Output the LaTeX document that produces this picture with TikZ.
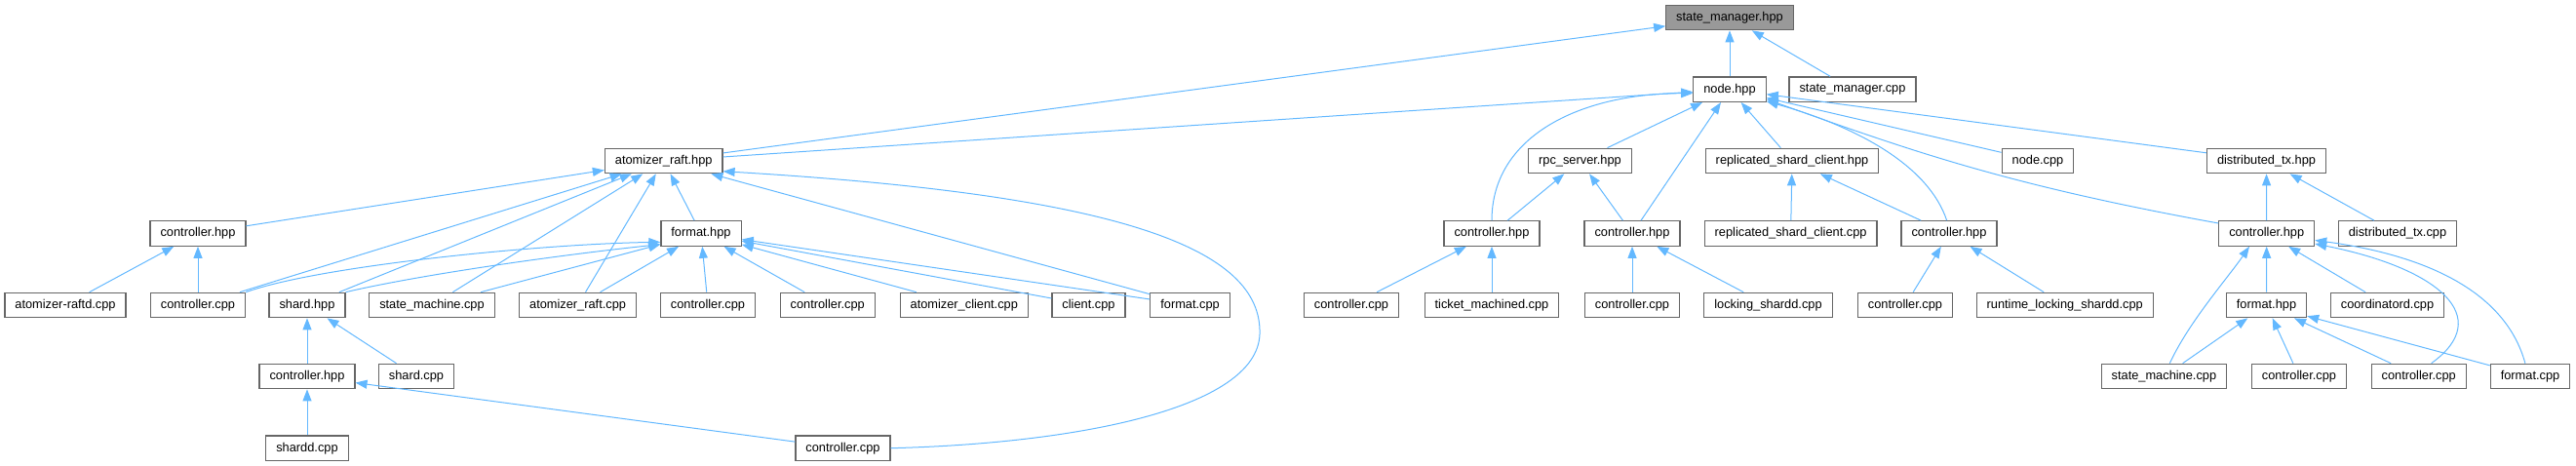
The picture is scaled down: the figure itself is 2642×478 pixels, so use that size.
\documentclass[tikz,border=0pt]{standalone}
\usepackage{fontspec}
\setmainfont{Liberation Sans}
\usetikzlibrary{arrows.meta}
\definecolor{edgeblue}{HTML}{63B8FF}
\definecolor{boxgrey}{HTML}{666666}
\definecolor{rootgrey}{HTML}{999999}

\begin{document}
\begin{tikzpicture}[
    x=1pt, y=-1pt,
    font=\fontsize{12.8}{15}\selectfont,
    file/.style={draw=boxgrey, line width=1.2pt, fill=white, minimum height=25.5pt, inner xsep=10.5pt, inner ysep=0pt},
    root/.style={file, fill=rootgrey},
    dep/.style={{Triangle[length=12pt, width=9pt]}-, draw=edgeblue, line width=1pt}
]
\useasboundingbox (0,0) rectangle (2642,478);

\node[root] (smhpp) at (1774,18) {state\_manager.hpp};

\node[file] (nodehpp) at (1774,91.7) {node.hpp};
\node[file] (smcpp) at (1900,91.7) {state\_manager.cpp};

\node[file] (arhpp) at (680.7,165) {atomizer\_raft.hpp};
\node[file] (rpchpp) at (1620.5,165) {rpc\_server.hpp};
\node[file] (rschpp) at (1838,165) {replicated\_shard\_client.hpp};
\node[file] (nodecpp) at (2090,165) {node.cpp};
\node[file] (dtxhpp) at (2324.5,165) {distributed\_tx.hpp};

\node[file] (ctrlarhpp) at (203,239.5) {controller.hpp};
\node[file] (fmtarhpp) at (719,239.5) {format.hpp};
\node[file] (ctrlrpca) at (1530,239.5) {controller.hpp};
\node[file] (ctrlrpcb) at (1674,239.5) {controller.hpp};
\node[file] (rsccpp) at (1836.6,239.5) {replicated\_shard\_client.cpp};
\node[file] (ctrlrsc) at (1999,239.5) {controller.hpp};
\node[file] (ctrldtx) at (2324.7,239.5) {controller.hpp};
\node[file] (dtxcpp) at (2459,239.5) {distributed\_tx.cpp};

\node[file] (raftdcpp) at (67,313) {atomizer-raftd.cpp};
\node[file] (ctrlcppa) at (203,313) {controller.cpp};
\node[file] (shardhpp) at (315,313) {shard.hpp};
\node[file] (smcppa) at (443,313) {state\_machine.cpp};
\node[file] (arcpp) at (592.6,313) {atomizer\_raft.cpp};
\node[file] (ctrlcppb) at (726,313) {controller.cpp};
\node[file] (ctrlcppc) at (848.7,313) {controller.cpp};
\node[file] (aclicpp) at (988.8,313) {atomizer\_client.cpp};
\node[file] (clicpp) at (1116.5,313) {client.cpp};
\node[file] (fmtcppa) at (1220.6,313) {format.cpp};
\node[file] (ctrlcppd) at (1386,313) {controller.cpp};
\node[file] (tmcpp) at (1530,313) {ticket\_machined.cpp};
\node[file] (ctrlcppe) at (1674,313) {controller.cpp};
\node[file] (lsdcpp) at (1813.5,313) {locking\_shardd.cpp};
\node[file] (ctrlcppf) at (1954,313) {controller.cpp};
\node[file] (rlsdcpp) at (2117.7,313) {runtime\_locking\_shardd.cpp};
\node[file] (fmtdtxhpp) at (2324.5,313) {format.hpp};
\node[file] (coordcpp) at (2448.5,313) {coordinatord.cpp};

\node[file] (ctrlshard) at (315,386) {controller.hpp};
\node[file] (shardcpp) at (427,386) {shard.cpp};
\node[file] (smcppb) at (2219.4,386) {state\_machine.cpp};
\node[file] (ctrlcppg) at (2358,386) {controller.cpp};
\node[file] (ctrlcpph) at (2480.7,386) {controller.cpp};
\node[file] (fmtcppb) at (2595,386) {format.cpp};

\node[file] (sharddcpp) at (315,459.7) {shardd.cpp};
\node[file] (ctrlcppi) at (864.5,459.7) {controller.cpp};

\draw[dep] (smhpp) -- (nodehpp);
\draw[dep] (smhpp) -- (smcpp);
\draw[dep] (smhpp) -- (arhpp);

\draw[dep] (nodehpp) -- (arhpp);
\draw[dep] (nodehpp.186) .. controls (1620,96) and (1530,140) .. (ctrlrpca.north);
\draw[dep] (nodehpp) -- (rpchpp);
\draw[dep] (nodehpp) -- (ctrlrpcb);
\draw[dep] (nodehpp) -- (rschpp);
\draw[dep] (nodehpp.-18) .. controls (1905,130) and (1978,170) .. (ctrlrsc.100);
\draw[dep] (nodehpp) -- (nodecpp);
\draw[dep] (nodehpp) -- (dtxhpp);
\draw[dep] (nodehpp.-15) .. controls (1960,155) and (2060,190) .. (ctrldtx.168);

\draw[dep] (arhpp) -- (ctrlarhpp);
\draw[dep] (arhpp) -- (ctrlcppa);
\draw[dep] (arhpp) -- (shardhpp);
\draw[dep] (arhpp) -- (smcppa);
\draw[dep] (arhpp) -- (arcpp);
\draw[dep] (arhpp) -- (fmtarhpp);
\draw[dep] (arhpp) -- (fmtcppa);
\draw[dep] (arhpp.-10) .. controls (1150,200) and (1295,255) .. (1292,343)
    .. controls (1289,420) and (1100,455) .. (ctrlcppi.east);

\draw[dep] (ctrlarhpp) -- (raftdcpp);
\draw[dep] (ctrlarhpp) -- (ctrlcppa);

\draw[dep] (fmtarhpp.192) .. controls (560,250) and (330,272) .. (ctrlcppa.north east);
\draw[dep] (fmtarhpp.195) .. controls (570,262) and (430,282) .. (shardhpp.north east);
\draw[dep] (fmtarhpp) -- (smcppa);
\draw[dep] (fmtarhpp) -- (arcpp);
\draw[dep] (fmtarhpp) -- (ctrlcppb);
\draw[dep] (fmtarhpp) -- (ctrlcppc);
\draw[dep] (fmtarhpp) -- (aclicpp);
\draw[dep] (fmtarhpp) -- (clicpp);
\draw[dep] (fmtarhpp) -- (fmtcppa);

\draw[dep] (shardhpp) -- (ctrlshard);
\draw[dep] (shardhpp) -- (shardcpp);
\draw[dep] (ctrlshard) -- (sharddcpp);
\draw[dep] (ctrlshard) -- (ctrlcppi);

\draw[dep] (rpchpp) -- (ctrlrpca);
\draw[dep] (rpchpp) -- (ctrlrpcb);
\draw[dep] (rschpp) -- (rsccpp);
\draw[dep] (rschpp) -- (ctrlrsc);
\draw[dep] (ctrlrpca) -- (ctrlcppd);
\draw[dep] (ctrlrpca) -- (tmcpp);
\draw[dep] (ctrlrpcb) -- (ctrlcppe);
\draw[dep] (ctrlrpcb) -- (lsdcpp);
\draw[dep] (ctrlrsc) -- (ctrlcppf);
\draw[dep] (ctrlrsc) -- (rlsdcpp);

\draw[dep] (dtxhpp) -- (ctrldtx);
\draw[dep] (dtxhpp) -- (dtxcpp);
\draw[dep] (ctrldtx.-143) .. controls (2285,285) and (2245,330) .. (smcppb.66);
\draw[dep] (ctrldtx) -- (fmtdtxhpp);
\draw[dep] (ctrldtx) -- (coordcpp);
\draw[dep] (ctrldtx.-12) .. controls (2500,275) and (2560,325) .. (ctrlcpph.46);
\draw[dep] (ctrldtx.-8) .. controls (2490,262) and (2570,300) .. (fmtcppb.111);
\draw[dep] (fmtdtxhpp) -- (smcppb);
\draw[dep] (fmtdtxhpp) -- (ctrlcppg);
\draw[dep] (fmtdtxhpp) -- (ctrlcpph);
\draw[dep] (fmtdtxhpp) -- (fmtcppb);
\end{tikzpicture}
\end{document}
